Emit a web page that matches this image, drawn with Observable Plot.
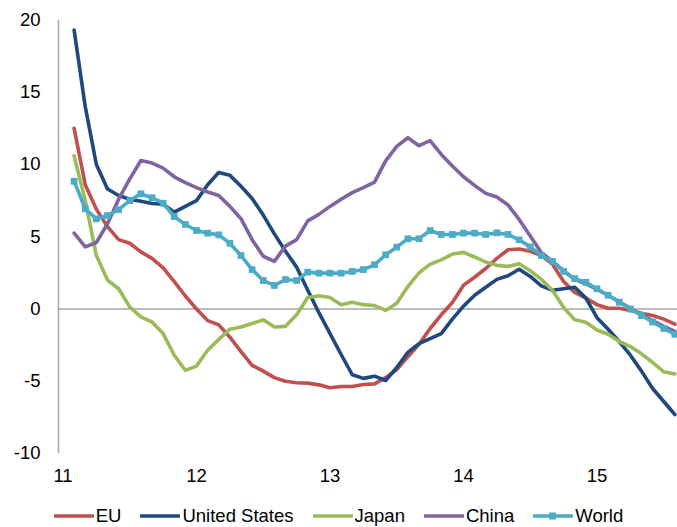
<!DOCTYPE html>
<html>
<head>
<meta charset="utf-8">
<script src="https://cdn.jsdelivr.net/npm/d3@7"></script>
<script src="https://cdn.jsdelivr.net/npm/@observablehq/plot@0.6"></script>
<style>
  html, body { margin: 0; padding: 0; background: #fff; overflow: hidden; }
  body { width: 677px; height: 527px; font-family: "Liberation Sans", Arial, sans-serif; }
  #legend { display: flex; justify-content: center; align-items: center; height: 22px; margin-top: 15px;
            font-size: 18.5px; line-height: 22px; color: #000; white-space: nowrap; }
  .item { display: flex; align-items: center; margin: 0 9.5px; }
  .item svg { margin-right: 2px; }
</style>
</head>
<body>
<div id="chart"></div>
<div id="legend"></div>
<script>
// Monthly data, Feb 2011 .. Aug 2015 (x tick labels are two-digit years)
const firstMonth = "2011-02";
const yearTicks = [11, 12, 13, 14, 15];
const yTicks = [-10, -5, 0, 5, 10, 15, 20];
const seriesNames = ["EU", "United States", "Japan", "China", "World"];
const seriesColors = ["#C0504D", "#1F497D", "#9BBB59", "#8064A2", "#4BACC6"];

const eu = [12.5, 8.6, 6.9, 5.7, 4.8, 4.55, 3.95, 3.5, 2.85, 1.9, 0.9, 0.0, -0.8, -1.1, -1.95, -2.95, -3.9, -4.3, -4.75, -5.0,
  -5.1, -5.13, -5.25, -5.45, -5.36, -5.36, -5.22, -5.18, -4.75, -4.2, -3.3, -2.45, -1.35, -0.4, 0.45, 1.65, 2.2, 2.8, 3.5, 4.1,
  4.15, 4.0, 3.7, 3.1, 1.9, 1.15, 0.75, 0.3, 0.05, 0.05, -0.1, -0.3, -0.45, -0.7, -1.05];
const unitedStates = [19.3, 14.0, 10.0, 8.3, 7.85, 7.6, 7.45, 7.3, 7.25, 6.7, 7.1, 7.5, 8.6, 9.45, 9.25, 8.5, 7.65, 6.5, 5.2, 4.0,
  2.9, 1.3, -0.25, -1.7, -3.15, -4.55, -4.8, -4.65, -4.95, -4.05, -3.0, -2.4, -2.05, -1.7, -0.7, 0.2, 0.95, 1.5, 2.05, 2.3,
  2.75, 2.25, 1.6, 1.3, 1.4, 1.5, 0.75, -0.6, -1.4, -2.25, -3.2, -4.3, -5.5, -6.4, -7.3];
const japan = [10.6, 7.5, 3.7, 2.0, 1.4, 0.15, -0.55, -0.9, -1.7, -3.2, -4.25, -3.95, -2.85, -2.1, -1.4, -1.25, -1.0, -0.75, -1.25, -1.2,
  -0.4, 0.8, 0.92, 0.8, 0.3, 0.47, 0.3, 0.24, -0.1, 0.4, 1.55, 2.5, 3.1, 3.4, 3.8, 3.92, 3.6, 3.25, 3.02, 2.95,
  3.13, 2.65, 2.05, 1.3, 0.1, -0.75, -0.92, -1.45, -1.75, -2.25, -2.6, -3.1, -3.7, -4.35, -4.5];
const china = [5.25, 4.3, 4.6, 5.9, 7.6, 9.0, 10.28, 10.1, 9.75, 9.15, 8.75, 8.4, 8.1, 7.85, 7.1, 6.25, 4.8, 3.65, 3.3, 4.35,
  4.8, 6.1, 6.55, 7.1, 7.6, 8.05, 8.4, 8.78, 10.25, 11.25, 11.85, 11.3, 11.66, 10.7, 9.9, 9.15, 8.55, 8.0, 7.75, 7.2,
  6.2, 5.05, 3.9, 3.3, 2.65, 2.05, 1.75, 1.35, 0.95, 0.5, 0.05, -0.4, -0.8, -1.2, -1.55];
const world = [8.84, 6.93, 6.24, 6.47, 6.87, 7.5, 7.97, 7.7, 7.32, 6.4, 5.85, 5.43, 5.25, 5.13, 4.55, 3.7, 2.73, 1.97, 1.63, 2.04,
  1.97, 2.55, 2.48, 2.48, 2.48, 2.6, 2.73, 3.06, 3.75, 4.28, 4.86, 4.86, 5.43, 5.16, 5.16, 5.25, 5.25, 5.16, 5.27, 5.16,
  4.79, 4.3, 3.7, 3.3, 2.6, 2.1, 1.85, 1.4, 0.95, 0.47, 0.0, -0.45, -0.9, -1.35, -1.75];

const seriesValues = [eu, unitedStates, japan, china, world];
const [fy, fm] = firstMonth.split("-").map(Number);
const rows = [];
seriesNames.forEach((name, s) => {
  seriesValues[s].forEach((v, i) => {
    rows.push({series: name, t: (fy - 2000) + (fm - 1 + i) / 12, value: v});
  });
});
const worldRows = rows.filter(d => d.series === "World");

const gray = "#A6A6A6";
const chart = Plot.plot({
  width: 677,
  height: 490,
  marginLeft: 58,
  marginRight: 0,
  marginTop: 19.5,
  marginBottom: 37,
  style: {fontFamily: '"Liberation Sans", Arial, sans-serif', fontSize: "18.5px", color: "#000", background: "#fff"},
  x: {domain: [10.9663, 15.603], ticks: yearTicks, tickFormat: d => String(d)},
  y: {domain: [-10, 20], ticks: yTicks, tickFormat: d => String(d)},
  color: {domain: seriesNames, range: seriesColors},
  marks: [
    Plot.ruleY([0], {stroke: gray, strokeWidth: 1.3}),
    Plot.ruleX([10.9663], {stroke: gray, strokeWidth: 1.5, y1: -10, y2: 20}),
    Plot.axisY({ticks: yTicks, tickSize: 0, tickPadding: 18, fontSize: 18.5, label: null, tickFormat: d => String(d)}),
    Plot.axisX({ticks: yearTicks, tickSize: 0, tickPadding: 15, fontSize: 18.5, label: null, tickFormat: d => String(d)}),
    Plot.line(rows, {x: "t", y: "value", z: "series", stroke: "series", strokeWidth: 3.6, strokeLinejoin: "round", strokeLinecap: "round"}),
    Plot.dot(worldRows, {x: "t", y: "value", symbol: "square", r: 3.8, fill: "#4BACC6"})
  ]
});
document.getElementById("chart").appendChild(chart);

// Legend below the chart
const legend = document.getElementById("legend");
seriesNames.forEach((name, i) => {
  const item = document.createElement("div");
  item.className = "item";
  const marker = name === "World" ? `<rect x="16" y="7.5" width="7" height="7" fill="${seriesColors[i]}"/>` : "";
  item.innerHTML = `<svg width="40" height="22"><line x1="1" x2="39" y1="11" y2="11" stroke="${seriesColors[i]}" stroke-width="3.6" stroke-linecap="round"/>${marker}</svg><span>${name}</span>`;
  legend.appendChild(item);
});
</script>
</body>
</html>
